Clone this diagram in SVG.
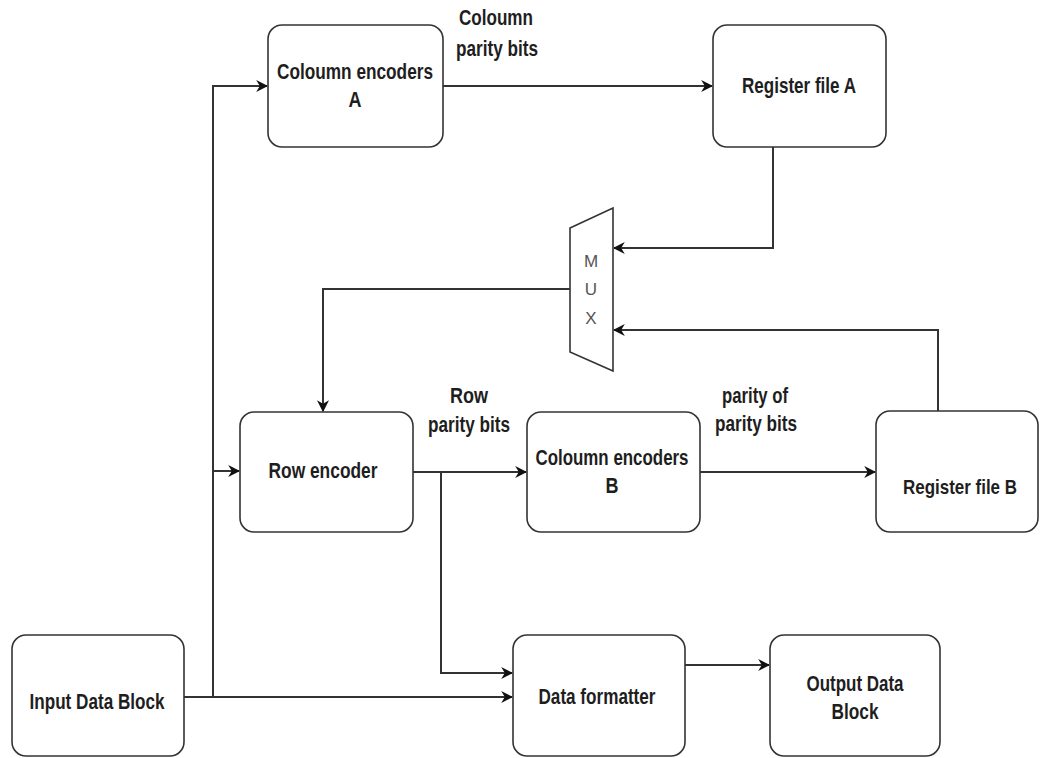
<svg xmlns="http://www.w3.org/2000/svg" width="1042" height="758" viewBox="0 0 1042 758">
<style>
.box{fill:#fff;stroke:#333;stroke-width:1.6}
.t{font-family:"Liberation Sans",Arial,sans-serif;font-weight:bold;font-size:22px;fill:#1e1e1e;text-anchor:middle}
.m{font-family:"Liberation Sans",Arial,sans-serif;font-size:17px;fill:#555;text-anchor:middle}
.c{fill:none;stroke:#333;stroke-width:2}
</style>
<defs>
<marker id="ah" viewBox="0 0 10 10" refX="9" refY="5" markerWidth="12" markerHeight="12" markerUnits="userSpaceOnUse" orient="auto">
<path d="M0,0 L10,5 L0,10 L3,5 z" fill="#111"/>
</marker>
</defs>
<rect width="1042" height="758" fill="#fff"/>
<g id="connectors">
<path class="c" d="M213,697 V86 H267" marker-end="url(#ah)"/>
<path class="c" d="M213,471 H239" marker-end="url(#ah)"/>
<path class="c" d="M184,697 H512" marker-end="url(#ah)"/>
<path class="c" d="M443,86 H712" marker-end="url(#ah)"/>
<path class="c" d="M773,147 V248 H614" marker-end="url(#ah)"/>
<path class="c" d="M938,411 V330 H614" marker-end="url(#ah)"/>
<path class="c" d="M570,289 H323 V411" marker-end="url(#ah)"/>
<path class="c" d="M413,472 H526" marker-end="url(#ah)"/>
<path class="c" d="M441,472 V673 H512" marker-end="url(#ah)"/>
<path class="c" d="M700,472 H875" marker-end="url(#ah)"/>
<path class="c" d="M685,665 H769" marker-end="url(#ah)"/>
<text class="t" x="496" y="25" textLength="74" lengthAdjust="spacingAndGlyphs">Coloumn</text>
<text class="t" x="497" y="56" textLength="82" lengthAdjust="spacingAndGlyphs">parity bits</text>
<text class="t" x="469" y="403" textLength="38" lengthAdjust="spacingAndGlyphs">Row</text>
<text class="t" x="469" y="432" textLength="82" lengthAdjust="spacingAndGlyphs">parity bits</text>
<text class="t" x="755" y="403" textLength="66" lengthAdjust="spacingAndGlyphs">parity of</text>
<text class="t" x="756" y="431" textLength="82" lengthAdjust="spacingAndGlyphs">parity bits</text>
</g>
<g id="col-enc-a">
<rect class="box" x="268" y="25" width="175" height="122" rx="14"/>
<text class="t" x="355" y="79" textLength="156" lengthAdjust="spacingAndGlyphs">Coloumn encoders</text>
<text class="t" x="355" y="107" textLength="13" lengthAdjust="spacingAndGlyphs">A</text>
</g>
<g id="reg-a">
<rect class="box" x="713" y="25" width="173" height="122" rx="14"/>
<text class="t" x="799" y="93" textLength="114" lengthAdjust="spacingAndGlyphs">Register file A</text>
</g>
<g id="mux">
<path class="box" d="M570,228 L613,208 L613,371 L570,352 Z"/>
<text class="m" x="591" y="267">M</text>
<text class="m" x="591" y="295">U</text>
<text class="m" x="591" y="324">X</text>
</g>
<g id="row-enc">
<rect class="box" x="240" y="412" width="173" height="120" rx="14"/>
<text class="t" x="323" y="478" textLength="109" lengthAdjust="spacingAndGlyphs">Row encoder</text>
</g>
<g id="col-enc-b">
<rect class="box" x="527" y="412" width="173" height="120" rx="14"/>
<text class="t" x="612" y="465" textLength="153" lengthAdjust="spacingAndGlyphs">Coloumn encoders</text>
<text class="t" x="612" y="493" textLength="13" lengthAdjust="spacingAndGlyphs">B</text>
</g>
<g id="reg-b">
<rect class="box" x="876" y="411" width="162" height="121" rx="14"/>
<text class="t" x="960" y="494" textLength="114" lengthAdjust="spacingAndGlyphs" style="font-size:21px">Register file B</text>
</g>
<g id="input">
<rect class="box" x="12" y="635" width="172" height="121" rx="14"/>
<text class="t" x="97" y="709" textLength="135" lengthAdjust="spacingAndGlyphs">Input Data Block</text>
</g>
<g id="formatter">
<rect class="box" x="513" y="635" width="172" height="121" rx="14"/>
<text class="t" x="597" y="704" textLength="117" lengthAdjust="spacingAndGlyphs">Data formatter</text>
</g>
<g id="output">
<rect class="box" x="770" y="635" width="170" height="121" rx="14"/>
<text class="t" x="855" y="691" textLength="97" lengthAdjust="spacingAndGlyphs">Output Data</text>
<text class="t" x="855" y="719" textLength="47" lengthAdjust="spacingAndGlyphs">Block</text>
</g>
</svg>
